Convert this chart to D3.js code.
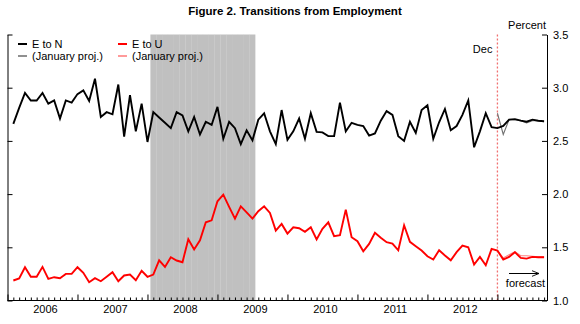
<!DOCTYPE html>
<html><head><meta charset="utf-8">
<script src="https://cdn.jsdelivr.net/npm/d3@7"></script>
<style>
body{margin:0;background:#fff;}
svg{display:block;font-family:"Liberation Sans",Arial,Helvetica,sans-serif;}
</style></head>
<body><svg id="c" width="580" height="324"></svg>
<script>
// months indexed from Dec 2005 (0); data start Jan 2006 (1) to Aug 2013 (92)
const years = ["2006","2007","2008","2009","2010","2011","2012"];
const enToN = [2.66,2.81,2.95,2.88,2.88,2.95,2.85,2.88,2.71,2.88,2.86,2.94,
2.975,2.875,3.085,2.725,2.77,2.75,3.03,2.54,2.93,2.59,2.85,2.49,
2.77,2.72,2.67,2.62,2.77,2.74,2.59,2.725,2.56,2.68,2.65,2.82,
2.52,2.68,2.62,2.47,2.60,2.505,2.70,2.76,2.59,2.47,2.79,2.51,
2.59,2.71,2.52,2.76,2.585,2.58,2.545,2.545,2.86,2.59,2.67,2.65,
2.64,2.55,2.57,2.69,2.78,2.745,2.545,2.50,2.68,2.575,2.79,2.835,
2.52,2.675,2.80,2.60,2.64,2.745,2.88,2.44,2.59,2.76,2.63,2.62,
2.64,2.70,2.705,2.69,2.68,2.70,2.69,2.685];
const enToU = [1.188,1.207,1.313,1.223,1.223,1.316,1.204,1.219,1.21,1.25,1.25,1.313,
1.26,1.172,1.21,1.181,1.223,1.266,1.181,1.235,1.244,1.191,1.279,1.223,
1.244,1.378,1.316,1.407,1.376,1.36,1.575,1.479,1.565,1.735,1.754,1.932,
1.995,1.88,1.77,1.885,1.829,1.77,1.839,1.885,1.823,1.657,1.72,1.629,
1.688,1.679,1.645,1.688,1.573,1.673,1.735,1.604,1.613,1.854,1.594,1.557,
1.463,1.532,1.636,1.59,1.548,1.535,1.472,1.707,1.551,1.51,1.469,1.416,
1.385,1.472,1.423,1.378,1.454,1.516,1.50,1.338,1.41,1.331,1.485,1.469,
1.385,1.41,1.454,1.40,1.394,1.41,1.406,1.406];
// January projections, Dec 2012 (84) .. Aug 2013 (92)
const enToNProj = [2.76,2.56,2.70,2.70,2.69,2.67,2.69,2.69,2.68];
const enToUProj = [1.469,1.40,1.43,1.46,1.42,1.42,1.415,1.41,1.41];
const recessionMonths = d3.range(25, 43); // Jan 2008 .. Jun 2009
const decIndex = 84; // Dec 2012
const yTicks = [1.0,1.5,2.0,2.5,3.0,3.5];

const svg = d3.select("#c");
const x = d3.scaleLinear().domain([0, 92.5]).range([7.5, 547]);
const y = d3.scaleLinear().domain([1.0, 3.5]).range([300.5, 34.5]);

// recession shading (monthly bars, slight overlap leaves faint seams)
svg.append("g").selectAll("rect").data(recessionMonths).join("rect")
  .attr("x", d => x(d - 0.5))
  .attr("width", (d, i) => x(1) - x(0) + (i === recessionMonths.length - 1 ? 0 : 0.2))
  .attr("y", y(3.5)).attr("height", y(1.0) - y(3.5))
  .attr("fill", "#c0c0c0");

// Dec line
svg.append("line").attr("x1", x(decIndex)).attr("x2", x(decIndex))
  .attr("y1", y(3.5)).attr("y2", y(1.0))
  .attr("stroke", "#f07070").attr("stroke-width", 1.3).attr("stroke-dasharray", "2,2");
svg.append("text").attr("x", x(decIndex) - 5).attr("y", 53).attr("text-anchor", "end")
  .attr("font-size", 11).text("Dec");

// axes
const allMonths = d3.range(0, 93);
const bottomMinor = d3.axisBottom(x).tickValues(allMonths.filter(d => d % 12 !== 0)).tickSizeInner(-3).tickSizeOuter(0).tickFormat("");
const bottomMajor = d3.axisBottom(x).tickValues(allMonths.filter(d => d % 12 === 0)).tickSizeInner(-6).tickSizeOuter(0).tickFormat("");
const gb = svg.append("g").attr("transform", `translate(0,${y(1.0)})`).call(bottomMinor);
svg.append("g").attr("transform", `translate(0,${y(1.0)})`).call(bottomMajor).select(".domain").remove();
gb.select(".domain").attr("d", `M${x(0)},0H${x(92.5)}`);

const gl = svg.append("g").attr("transform", `translate(${x(0)},0)`)
  .call(d3.axisLeft(y).tickValues(yTicks).tickSizeInner(-5).tickSizeOuter(0).tickFormat(""));
const gr = svg.append("g").attr("transform", `translate(${x(92.5)},0)`)
  .call(d3.axisRight(y).tickValues(yTicks).tickSizeInner(-5).tickSizeOuter(0).tickPadding(6).tickFormat(d3.format(".1f")));
svg.selectAll(".tick text").attr("font-size", 11).attr("font-family", "Liberation Sans, Arial, sans-serif").attr("fill", "#000");
svg.selectAll(".domain, .tick line").attr("stroke", "#000");

// year labels centered over Jan..Dec of each year
svg.append("g").selectAll("text").data(years).join("text")
  .attr("x", (d, i) => (x(i * 12 + 1) + x(i * 12 + 12)) / 2)
  .attr("y", 313).attr("text-anchor", "middle").attr("font-size", 11).text(d => d);

// lines
const line = d3.line().x(d => x(d[0])).y(d => y(d[1]));
const main = arr => arr.map((v, i) => [i + 1, v]);
const proj = arr => arr.map((v, i) => [decIndex + i, v]);
svg.append("path").attr("d", line(proj(enToNProj))).attr("fill", "none").attr("stroke", "#707070").attr("stroke-width", 1.1);
svg.append("path").attr("d", line(proj(enToUProj))).attr("fill", "none").attr("stroke", "#ff8080").attr("stroke-width", 1.1);
svg.append("path").attr("d", line(main(enToN))).attr("fill", "none").attr("stroke", "#000").attr("stroke-width", 1.9);
svg.append("path").attr("d", line(main(enToU))).attr("fill", "none").attr("stroke", "#ff0000").attr("stroke-width", 1.9);

// legend
const legend = [
  {label: "E to N", color: "#000", w: 2, lx: 18, ly: 44},
  {label: "(January proj.)", color: "#909090", w: 2, lx: 18, ly: 56},
  {label: "E to U", color: "#ff0000", w: 2, lx: 118, ly: 44},
  {label: "(January proj.)", color: "#ff9a9a", w: 2, lx: 118, ly: 56}
];
const lg = svg.append("g").selectAll("g").data(legend).join("g");
lg.append("line").attr("x1", d => d.lx).attr("x2", d => d.lx + 9).attr("y1", d => d.ly).attr("y2", d => d.ly)
  .attr("stroke", d => d.color).attr("stroke-width", d => d.w);
lg.append("text").attr("x", d => d.lx + 14).attr("y", d => d.ly + 4).attr("font-size", 11).text(d => d.label);

// title, unit label
svg.append("text").attr("x", 295).attr("y", 15).attr("text-anchor", "middle")
  .attr("font-size", 11.5).attr("font-weight", "bold").text("Figure 2. Transitions from Employment");
svg.append("text").attr("x", 546).attr("y", 29).attr("text-anchor", "end").attr("font-size", 11).text("Percent");

// forecast arrow
svg.append("defs").append("marker").attr("id", "ah").attr("viewBox", "0 0 10 10")
  .attr("refX", 10).attr("refY", 5).attr("markerWidth", 7).attr("markerHeight", 7).attr("orient", "auto")
  .append("path").attr("d", "M0,1L10,5L0,9").attr("fill", "none").attr("stroke", "#000").attr("stroke-width", 1.3);
svg.append("line").attr("x1", 509).attr("x2", 539).attr("y1", 273.5).attr("y2", 273.5)
  .attr("stroke", "#000").attr("stroke-width", 1).attr("marker-end", "url(#ah)");
svg.append("text").attr("x", 545).attr("y", 287).attr("text-anchor", "end").attr("font-size", 11).text("forecast");
</script></body></html>
